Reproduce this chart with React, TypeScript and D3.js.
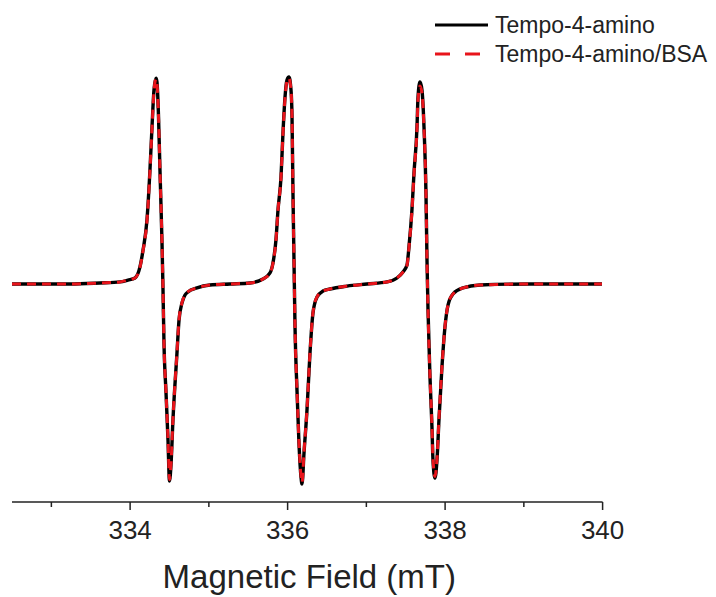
import { useRef, useEffect } from 'react'
import * as d3 from 'd3'

// field (mT) and intensity (a.u.)
const field = [
  332.5, 332.856, 333.237, 333.617, 333.871, 333.973, 334.062, 334.125, 334.164, 334.214,
  334.252, 334.278, 334.303, 334.329, 334.341, 334.36, 334.379, 334.405, 334.417, 334.43,
  334.456, 334.481, 334.5, 334.519, 334.544, 334.595, 334.621, 334.659, 334.697, 334.735,
  334.849, 335.014, 335.268, 335.522, 335.687, 335.776, 335.814, 335.852, 335.878, 335.916,
  335.941, 335.967, 335.992, 336.017, 336.043, 336.056, 336.068, 336.081, 336.094, 336.119,
  336.144, 336.17, 336.183, 336.208, 336.246, 336.284, 336.322, 336.373, 336.449, 336.538,
  336.754, 337.008, 337.262, 337.389, 337.465, 337.516, 337.541, 337.579, 337.605, 337.643,
  337.656, 337.681, 337.706, 337.732, 337.757, 337.77, 337.783, 337.808, 337.833, 337.846,
  337.871, 337.897, 337.922, 337.96, 337.998, 338.037, 338.1, 338.227, 338.443, 339.078,
  339.586, 339.992,
]

const tempo = [
  0, 0, 0, 0.005, 0.01, 0.019, 0.029, 0.082, 0.163, 0.308,
  0.548, 0.755, 0.933, 0.99, 0.971, 0.812, 0.548, 0.197, -0.014, -0.284,
  -0.524, -0.75, -0.947, -0.87, -0.654, -0.332, -0.173, -0.091, -0.053, -0.038,
  -0.019, -0.005, 0, 0.005, 0.024, 0.053, 0.101, 0.212, 0.356, 0.514,
  0.726, 0.899, 0.981, 0.995, 0.933, 0.803, 0.438, 0.115, -0.207, -0.51,
  -0.764, -0.928, -0.962, -0.813, -0.606, -0.332, -0.139, -0.063, -0.034, -0.024,
  -0.01, 0, 0.01, 0.029, 0.058, 0.091, 0.178, 0.356, 0.534, 0.755,
  0.899, 0.971, 0.933, 0.755, 0.438, 0.115, -0.125, -0.447, -0.688, -0.846,
  -0.933, -0.846, -0.654, -0.399, -0.207, -0.101, -0.048, -0.019, -0.005, 0,
  0, 0,
]

const tempoBsa = [
  0, 0, 0, 0.005, 0.01, 0.019, 0.029, 0.08, 0.16, 0.305,
  0.545, 0.75, 0.928, 0.985, 0.965, 0.81, 0.545, 0.195, -0.015, -0.285,
  -0.522, -0.745, -0.94, -0.865, -0.65, -0.33, -0.172, -0.09, -0.052, -0.037,
  -0.019, -0.005, 0, 0.005, 0.024, 0.052, 0.1, 0.21, 0.354, 0.512,
  0.722, 0.894, 0.976, 0.99, 0.93, 0.8, 0.436, 0.114, -0.206, -0.508,
  -0.76, -0.922, -0.955, -0.81, -0.603, -0.33, -0.138, -0.062, -0.034, -0.024,
  -0.01, 0, 0.01, 0.029, 0.057, 0.09, 0.176, 0.352, 0.528, 0.745,
  0.885, 0.952, 0.92, 0.748, 0.435, 0.114, -0.124, -0.444, -0.682, -0.838,
  -0.925, -0.84, -0.65, -0.397, -0.206, -0.1, -0.048, -0.019, -0.005, 0,
  0, 0,
]

const majorTicks = [334, 336, 338, 340]
const minorTicks = [333, 335, 337, 339]

const SERIES = [
  { name: 'Tempo-4-amino', values: tempo, color: '#000000', dash: null, width: 3.4 },
  { name: 'Tempo-4-amino/BSA', values: tempoBsa, color: '#e8141b', dash: '9,6', width: 3 },
]

const FONT = 'Liberation Sans, Arial, sans-serif'

export default function App() {
  const svgRef = useRef<SVGSVGElement>(null)

  useEffect(() => {
    if (!svgRef.current) return
    const W = 716
    const H = 597
    const axisY = 502

    const svg = d3.select(svgRef.current)
    svg.selectAll('*').remove()

    const x = d3.scaleLinear().domain([332.5, 340]).range([12, 602.6])
    const y = d3.scaleLinear().domain([-1, 1]).range([492, 76])

    // x axis
    svg.append('line')
      .attr('x1', x(332.5)).attr('x2', x(340))
      .attr('y1', axisY).attr('y2', axisY)
      .attr('stroke', '#222').attr('stroke-width', 1.5)

    svg.selectAll('.major')
      .data(majorTicks)
      .join('line')
      .attr('x1', d => x(d)).attr('x2', d => x(d))
      .attr('y1', axisY).attr('y2', axisY + 8)
      .attr('stroke', '#222').attr('stroke-width', 1.5)

    svg.selectAll('.minor')
      .data(minorTicks)
      .join('line')
      .attr('x1', d => x(d)).attr('x2', d => x(d))
      .attr('y1', axisY).attr('y2', axisY + 5)
      .attr('stroke', '#222').attr('stroke-width', 1.5)

    svg.selectAll('.tick-label')
      .data(majorTicks)
      .join('text')
      .attr('x', d => x(d)).attr('y', 539)
      .attr('text-anchor', 'middle')
      .attr('font-size', 26).attr('font-family', FONT)
      .attr('fill', '#222')
      .text(d => d)

    svg.append('text')
      .attr('x', (x(332.5) + x(340)) / 2 + 2).attr('y', 588)
      .attr('text-anchor', 'middle')
      .attr('font-size', 33).attr('font-family', FONT)
      .attr('fill', '#222')
      .text('Magnetic Field (mT)')

    // spectra
    const line = d3.line<number>()
      .x((_, i) => x(field[i]))
      .y(d => y(d))
      .curve(d3.curveMonotoneX)

    SERIES.forEach(s => {
      svg.append('path')
        .attr('d', line(s.values))
        .attr('fill', 'none')
        .attr('stroke', s.color)
        .attr('stroke-width', s.width)
        .attr('stroke-linejoin', 'round')
        .attr('stroke-dasharray', s.dash)
    })

    // legend
    const lg = svg.append('g')
    SERIES.forEach((s, i) => {
      const ly = 25 + i * 29
      lg.append('line')
        .attr('x1', 435).attr('x2', 488)
        .attr('y1', ly).attr('y2', ly)
        .attr('stroke', s.color).attr('stroke-width', 3)
        .attr('stroke-dasharray', s.dash ? '15,15' : null)
      lg.append('text')
        .attr('x', 495).attr('y', ly + 8)
        .attr('font-size', 23).attr('font-family', FONT)
        .attr('fill', '#222')
        .text(s.name)
    })

    svg.attr('width', W).attr('height', H)
  }, [])

  return (
    <div style={{ position: 'absolute', left: 0, top: 0, width: 716, height: 597, background: '#fff' }}>
      <svg ref={svgRef} width={716} height={597} style={{ display: 'block' }} />
    </div>
  )
}
